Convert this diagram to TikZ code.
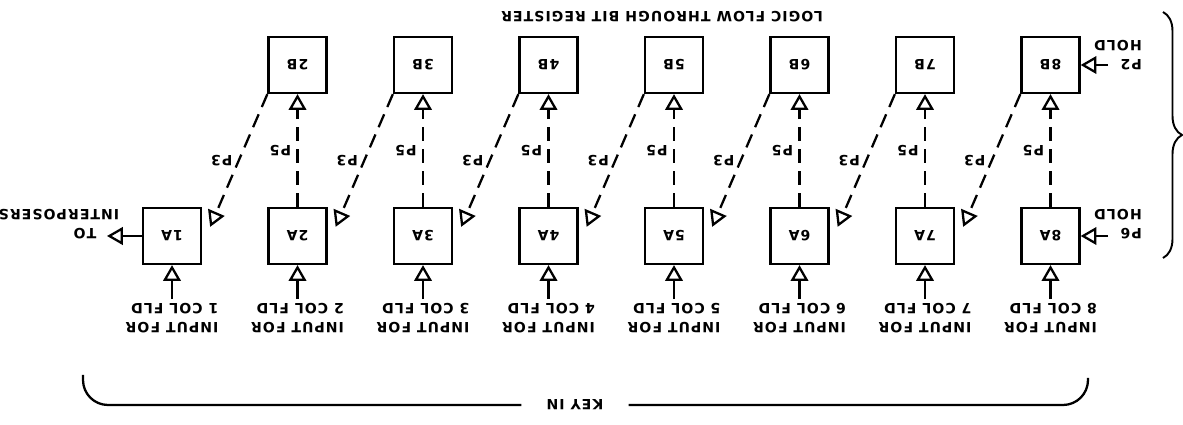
\documentclass[tikz,border=0pt]{standalone}
\usepackage{fontspec}
\setmainfont{DejaVu Sans}[LetterSpace=7.5]
\usepackage{tikz}
\usetikzlibrary{arrows.meta}
\usetikzlibrary{calc}
\usetikzlibrary{decorations.pathreplacing}
\tikzset{reg/.style={draw, line width=1.3pt, minimum width=1.16cm, minimum height=1.12cm, inner sep=0pt}}
\tikzset{lbl/.style={rotate=180, align=left, inner sep=2pt}}
\tikzset{flow/.style={line width=1.3pt, -{Triangle[open, length=9pt, width=10pt]}}}
\tikzset{pulse/.style={flow, dash pattern=on 8pt off 4.5pt}}

\begin{document}
\begin{tikzpicture}[x=0.02cm, y=-0.02cm, font=\fontsize{8}{11}\selectfont\bfseries]
\useasboundingbox (0,0) rectangle (1183,425);
\foreach \i in {1,...,8} {
  \node[reg] (A\i) at ({172+125.5*(\i-1)}, 236) {\rotatebox{180}{\i A}};
  \node[lbl] (in\i) at ({172+125.5*(\i-1)}, 318) {INPUT FOR\\\i\ COL FLD};
  \draw[flow] (in\i) -- (A\i);
}
\foreach \i in {2,...,8} {
  \pgfmathtruncatemacro{\j}{\i-1}
  \node[reg] (B\i) at ({172+125.5*(\i-1)}, 65) {\rotatebox{180}{\i B}};
  \draw[pulse] (A\i) -- node[midway, xshift=-0.34cm, rotate=180] {P5} (B\i);
  \draw[pulse] (B\i.south west) -- node[midway, xshift=-0.34cm, rotate=180] {P3} ($(A\j.north east)+(8,20)$);
}
\node[lbl] (hold2) at (1118,55) {P2\\HOLD};
\node[lbl] (hold6) at (1118,224) {P6\\HOLD};
\coordinate (p2) at (1108,65);
\coordinate (p6) at (1108,236);
\draw[flow] (p2) -- (B8);
\draw[flow] (p6) -- (A8);
\coordinate (out) at (107,236);
\draw[flow] (A1) -- (out);
\node[lbl] (to) at (85,234) {TO};
\node[lbl] (interp) at (59,215) {INTERPOSERS};
\node[lbl] (logic) at (662,17) {LOGIC FLOW THROUGH BIT REGISTER};
\node[lbl, inner xsep=0.5cm] (key) at (575,405) {KEY IN};
\coordinate (kl) at (83,375);
\coordinate (kr) at (1088,378);
\draw[line width=1.3pt, rounded corners=0.5cm] (kl) |- (key);
\draw[line width=1.3pt, rounded corners=0.5cm] (key) -| (kr);
\draw[line width=1.1pt, decorate, decoration={brace, amplitude=0.38cm}] (1163,12) -- (1163,258);
\end{tikzpicture}
\end{document}
